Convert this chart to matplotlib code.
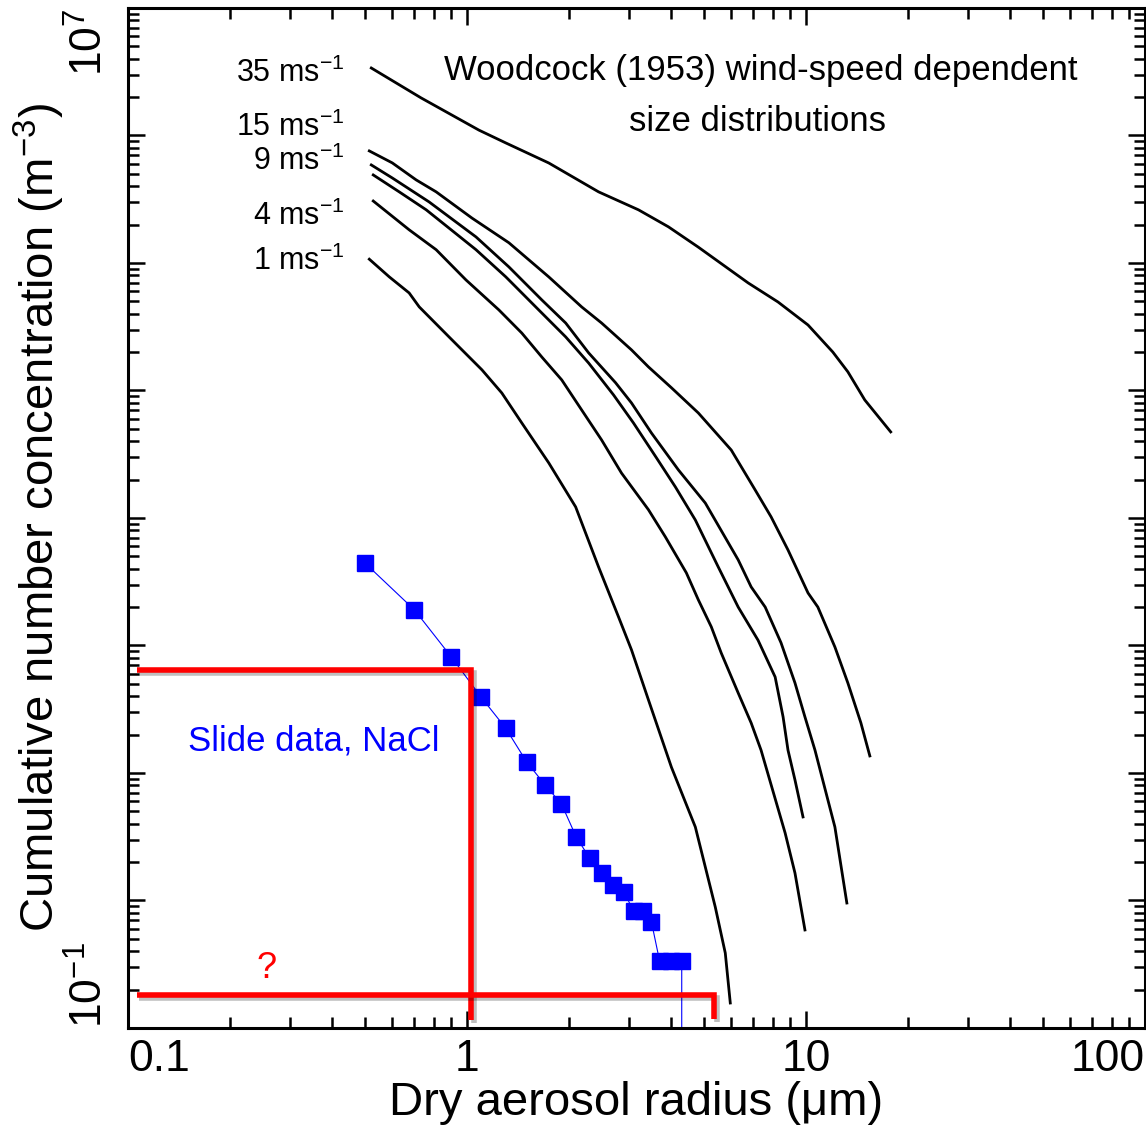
import matplotlib
matplotlib.use("Agg")
import matplotlib.pyplot as plt
import matplotlib.patheffects as pe

plt.rcParams['font.family'] = ['Liberation Sans', 'DejaVu Sans']
plt.rcParams['mathtext.fontset'] = 'custom'
plt.rcParams['mathtext.rm'] = 'Liberation Sans'
plt.rcParams['mathtext.it'] = 'Liberation Sans:italic'
plt.rcParams['mathtext.bf'] = 'Liberation Sans:bold'

# Woodcock (1953) curves: dry radius (um) and cumulative concentration (m^-3)
r_35 = [0.522, 0.732, 1.085, 1.302, 1.743, 2.444, 3.205, 3.928, 4.813, 6.752,
        8.27, 10.14, 12.0, 13.29, 14.91, 17.78]
n_35 = [3.38e6, 1.97e6, 1.10e6, 8.73e5, 6.08e5, 3.61e5, 2.61e5, 1.92e5, 1.33e5,
        6.97e4, 4.94e4, 3.26e4, 2.00e4, 1.40e4, 8.42e3, 4.73e3]

r_15 = [0.515, 0.602, 0.708, 0.811, 1.034, 1.329, 1.743, 2.179, 2.495, 3.057,
        3.430, 4.009, 4.813, 6.019, 7.079, 7.89, 8.85, 10.14, 10.84, 12.17,
        13.29, 14.52, 15.43]
n_15 = [7.56e5, 6.09e5, 4.48e5, 3.61e5, 2.25e5, 1.44e5, 7.77e4, 4.52e4, 3.38e4,
        2.08e4, 1.53e4, 1.05e4, 6.66e3, 3.41e3, 1.66e3, 1.02e3, 561, 258, 200,
        97.3, 50.8, 24.7, 13.6]

r_9 = [0.522, 0.602, 0.773, 1.063, 1.329, 1.662, 1.955, 2.285, 2.743, 3.057,
       3.500, 4.204, 5.046, 6.31, 6.89, 7.58, 8.44, 9.28, 9.93, 10.63, 12.17,
       13.20]
n_9 = [5.87e5, 4.64e5, 3.01e5, 1.60e5, 9.31e4, 5.13e4, 3.38e4, 1.97e4, 1.15e4,
       7.98e3, 4.64e3, 2.38e3, 1.31e3, 469, 288, 200, 105, 50.8, 27.5, 15.1,
       3.77, 0.955]

r_6 = [0.529, 0.631, 0.758, 1.063, 1.302, 1.628, 1.955, 2.285, 2.706, 3.098,
       3.622, 4.119, 4.716, 5.51, 6.31, 7.22, 8.11, 8.56, 8.85, 9.28, 9.80]
n_6 = [4.90e5, 3.61e5, 2.61e5, 1.27e5, 7.77e4, 4.28e4, 2.63e4, 1.64e4, 9.22e3,
       5.56e3, 2.96e3, 1.75e3, 964, 413, 200, 110, 56.6, 27.5, 15.1, 8.81, 4.52]

r_4 = [0.529, 0.675, 0.811, 0.993, 1.242, 1.451, 1.662, 1.903, 2.179, 2.495,
       2.856, 3.430, 3.848, 4.437, 4.813, 5.256, 5.623, 6.31, 6.89, 7.37, 8.68,
       9.28, 9.93]
n_4 = [3.06e5, 1.82e5, 1.27e5, 7.36e4, 4.28e4, 2.82e4, 1.83e4, 1.21e4, 7.03e3,
       4.09e3, 2.25e3, 1.16e3, 710, 371, 228, 140, 87.3, 42.4, 24.7, 15.1, 3.38,
       1.64, 0.587]

r_1 = [0.515, 0.590, 0.675, 0.723, 0.885, 1.107, 1.267, 1.451, 1.743, 2.092,
       2.444, 2.800, 3.057, 3.430, 4.009, 4.716, 5.40, 5.78, 5.98]
n_1 = [1.07e5, 7.77e4, 5.82e4, 4.52e4, 2.63e4, 1.45e4, 9.55e3, 5.56e3, 2.70e3,
       1.22e3, 413, 167, 92.3, 37.4, 11.1, 3.77, 0.889, 0.387, 0.157]

wind_labels = ['35', '15', '9', '4', '1']

# slide data, NaCl (last point drops to zero)
slide_r = [0.50, 0.70, 0.90, 1.10, 1.30, 1.50, 1.70, 1.90, 2.10, 2.30, 2.50,
           2.70, 2.90, 3.10, 3.30, 3.50, 3.70, 4.00, 4.30, 4.30]
slide_n = [443, 190, 81, 39.4, 22.5, 12.2, 8.05, 5.71, 3.15, 2.15, 1.64, 1.32,
           1.17, 0.83, 0.83, 0.68, 0.335, 0.335, 0.335, 1e-3]

# red guide lines
guide1_r = [0.106, 1.03, 1.03]
guide1_n = [64.3, 64.3, 0.1156]
guide2_r = [0.106, 5.36, 5.36]
guide2_n = [0.1815, 0.1815, 0.118]

x_ticks = [0.1, 1, 10, 100]
x_ticklabels = ['0.1', '1', '10', '100']
y_ticks = [10.0 ** k for k in range(-1, 8)]
y_ticklabels = ['$10^{-1}$', '', '', '', '', '', '', '', '$10^{7}$']

fig = plt.figure(figsize=(11.46, 11.33), dpi=100)
ax = fig.add_axes([0.1117, 0.0927, 0.8874, 0.9003])

curves = [(r_35, n_35), (r_15, n_15), (r_9, n_9), (r_6, n_6), (r_4, n_4),
          (r_1, n_1)]
for r, n in curves:
    ax.plot(r, n, color='black', lw=2.0)

ax.plot(slide_r, slide_n, color='blue', lw=0.8, marker='s', ms=12,
        markeredgecolor='blue', markerfacecolor='blue')

shadow = [pe.SimpleLineShadow(offset=(2, -2), shadow_color='black', alpha=0.25),
          pe.Normal()]
for gr, gn in [(guide1_r, guide1_n), (guide2_r, guide2_n)]:
    ax.plot(gr, gn, color='red', lw=4, solid_joinstyle='miter',
            solid_capstyle='butt', path_effects=shadow, zorder=5)

ax.set_xscale('log')
ax.set_yscale('log')
ax.set_xlim(0.1, 100)
ax.set_ylim(1e-1, 1e7)

ax.set_xticks(x_ticks)
ax.set_xticklabels(x_ticklabels)
ax.set_yticks(y_ticks)
ax.set_yticklabels(y_ticklabels)
ax.tick_params(which='both', direction='in', top=True, right=True, width=1.8)
ax.tick_params(which='major', length=12)
ax.tick_params(which='minor', length=8)
ax.tick_params(axis='x', labelsize=32, pad=8)
ax.tick_params(axis='y', labelsize=32, pad=12, labelrotation=90)
for lab, ha in zip(ax.get_xticklabels(), ['left', 'center', 'center', 'right']):
    lab.set_ha(ha)
ylabs = ax.get_yticklabels()
for lab in ylabs:
    lab.set_rotation_mode('default')
    lab.set_ha('right')
ylabs[0].set_va('bottom')
ylabs[-1].set_va('top')
for s in ax.spines.values():
    s.set_linewidth(2.2)

ax.set_xlabel('Dry aerosol radius (μm)', fontsize=34)
ax.xaxis.set_label_coords(0.5, -0.052)
ax.set_ylabel('Cumulative number concentration (m$^{-3}$)', fontsize=34)
ax.yaxis.set_label_coords(-0.060, 0.5)

ax.text(0.622, 0.939, 'Woodcock (1953) wind-speed dependent', transform=ax.transAxes,
        ha='center', va='center', fontsize=25)
ax.text(0.619, 0.889, 'size distributions', transform=ax.transAxes,
        ha='center', va='center', fontsize=25)

label_y = [0.9275, 0.8740, 0.8410, 0.7873, 0.7431]
for w, yy in zip(wind_labels, label_y):
    ax.text(0.2134, yy, w + ' ms$^{-1}$', transform=ax.transAxes,
            ha='right', va='baseline', fontsize=22)

ax.text(0.059, 0.2716, 'Slide data, NaCl', transform=ax.transAxes, color='blue',
        ha='left', va='baseline', fontsize=25)
ax.text(0.1367, 0.049, '?', transform=ax.transAxes, color='red',
        ha='center', va='baseline', fontsize=26)

fig.savefig('out.png', dpi=100)
